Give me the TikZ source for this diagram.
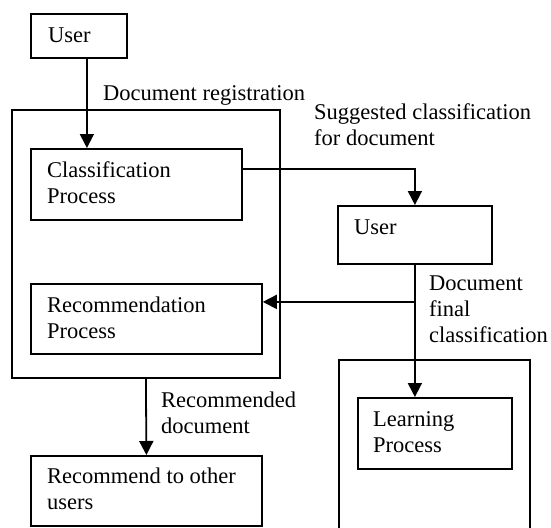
\documentclass[tikz,border=0pt]{standalone}
\usepackage{fontspec}
\setmainfont{Liberation Serif}
\usetikzlibrary{arrows.meta}
\begin{document}
\begin{tikzpicture}[x=1pt,y=-1pt,
  box/.style={draw,line width=1.8pt,inner sep=0pt,anchor=north west},
  txt/.style={anchor=base west,inner sep=0pt,align=left,font=\fontsize{22.5}{26}\selectfont},
  arr/.style={line width=1.8pt,-{Triangle[length=14pt,width=14pt]}},
  con/.style={line width=1.8pt}]
\useasboundingbox (0,0) rectangle (551,527);
\clip (0,0) rectangle (551,527);
% boxes
\node[box,minimum width=96pt,minimum height=44pt] (u1) at (30,13) {};
\node[box,minimum width=268pt,minimum height=268pt] (lo) at (11,109) {};
\node[box,minimum width=211pt,minimum height=71pt] (cls) at (30,148) {};
\node[box,minimum width=231pt,minimum height=70pt] (rec) at (30,283) {};
\node[box,minimum width=231pt,minimum height=70pt] (rto) at (30,455) {};
\node[box,minimum width=154pt,minimum height=58pt] (u2) at (337,205) {};
\node[box,minimum width=191pt,minimum height=190pt] (ro) at (338,359) {};
\node[box,minimum width=154pt,minimum height=71pt] (learn) at (357,397) {};
% box texts (base = baseline of last line)
\node[txt] (u1t) at ([shift={(18,30)}]u1.north west) {User};
\node[txt] (clst) at ([shift={(17,55)}]cls.north west) {Classification\\Process};
\node[txt] (rect) at ([shift={(17,55)}]rec.north west) {Recommendation\\Process};
\node[txt] (rtot) at ([shift={(17,54)}]rto.north west) {Recommend to other\\users};
\node[txt] (u2t) at ([shift={(17,29)}]u2.north west) {User};
\node[txt] (learnt) at ([shift={(16,55)}]learn.north west) {Learning\\Process};
% connectors
\draw[arr] ([xshift=8pt]u1.south) -- ([xshift=8pt]u1.south |- cls.north);
\draw[arr] ([yshift=15.5pt]cls.east) -| (u2.north);
\draw[arr] (u2.south) |- ([yshift=17pt]rec.east);
\draw[arr] (u2.south) -- (u2.south |- learn.north);
\draw[arr] (lo.south) -- (rto.north);
% labels
\node[txt] (l1) at (103,100) {Document registration};
\node[txt] (l2) at (314,145) {Suggested classification\\for document};
\node[txt] (l3) at (429,342) {Document\\final\\classification};
\node[txt] (l4) at (161,433) {Recommended\\document};
\end{tikzpicture}
\end{document}
